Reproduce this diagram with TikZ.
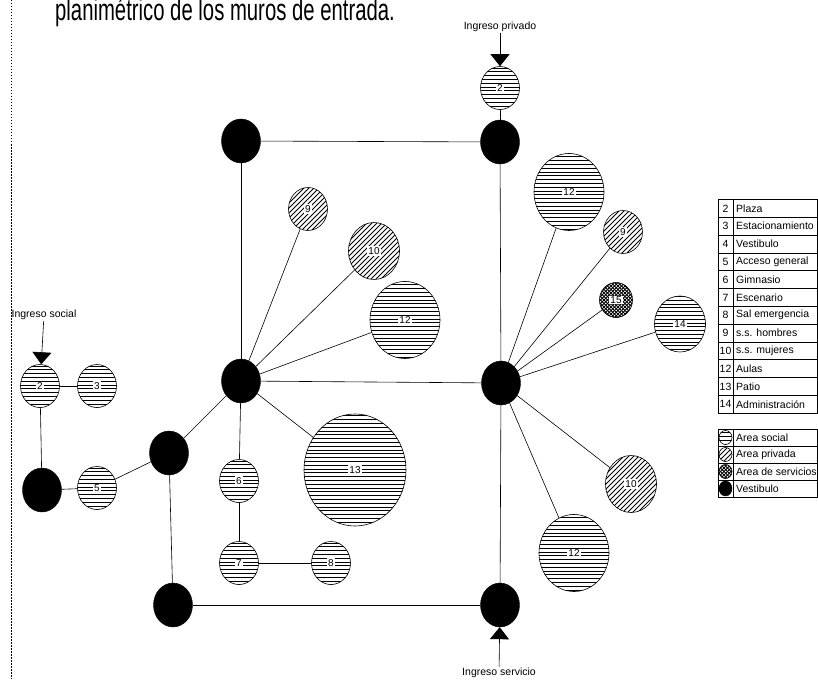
\documentclass[tikz,border=0pt]{standalone}
\usepackage{fontspec}
\setmainfont{Liberation Sans}
\usetikzlibrary{arrows.meta,positioning,shapes.geometric}

\begin{document}
\begin{tikzpicture}[
  x=1pt, y=-1pt,
  vest/.style={ellipse, draw, fill=black, minimum width=39pt, minimum height=44pt, inner sep=0pt},
  area/.style={ellipse, draw, line width=0.6pt, inner sep=0pt, label={[num]center:#1}},
  raya/.style={line width=0.75pt, shift={(path picture bounding box.center)}},
  rayado/.style={path picture={
    \foreach \k in {-58,-54.2,...,58} \draw[raya] (-60,\k) -- (60,\k);}},
  diagonal/.style={path picture={
    \foreach \k in {-90,-85,...,90} \draw[raya] (\k-40,40) -- (\k+40,-40);}},
  cuadros/.style={path picture={
    \foreach \k in {-40,-36.5,...,40} {\draw[raya, line width=1pt] (\k-20,20) -- (\k+20,-20);
      \draw[raya, line width=1pt] (\k-20,-20) -- (\k+20,20);}}},
  social/.style={area=#1, rayado},
  privada/.style={area=#1, diagonal},
  servicio/.style={area=#1, cuadros},
  chica/.style={minimum width=39pt, minimum height=43pt},
  media/.style={minimum width=51pt, minimum height=57pt},
  grande/.style={minimum width=70pt, minimum height=77pt},
  num/.style={fill=white, inner sep=1pt, font=\fontsize{10}{10}\selectfont},
  link/.style={line width=0.6pt},
  entrada/.style={line width=0.6pt, -{Triangle[width=19pt,length=12pt]}},
  rotulo/.style={font=\fontsize{10.5}{10.5}\selectfont, inner sep=1pt},
  celda/.style={font=\fontsize{10.5}{10.5}\selectfont, inner sep=0pt}
]
  \useasboundingbox (0,0) rectangle (818,679);

  \node[anchor=base west, inner sep=0pt, font=\fontsize{20.3}{20.3}\selectfont] (titulo) at (55,21)
    {\scalebox{1}[1.5]{planimétrico de los muros de entrada.}};
  \draw[line width=0.5pt, dash pattern=on 1.5pt off 1.5pt] (11,0) -- (11,679);

  % vestibulos
  \node[vest] (v1) at (241,141) {};
  \node[vest] (v2) at (500,142) {};
  \node[vest] (v3) at (241,381) {};
  \node[vest] (v4) at (501,383) {};
  \node[vest] (v5) at (169,453) {};
  \node[vest] (v6) at (173,605) {};
  \node[vest] (v7) at (500,605) {};
  \node[vest] (v8) at (42,490) {};

  % areas
  \node[social=2, chica] (a2p) at (500,88) {};
  \node[social=12, grande] (a12tr) at (569,192) {};
  \node[privada=9, chica] (a9r) at (623,232) {};
  \node[servicio=15, minimum width=33pt, minimum height=35pt] (a15) at (616,300) {};
  \node[social=14, minimum width=51pt, minimum height=56pt] (a14) at (680,324) {};
  \node[privada=10, media] (a10r) at (631,484) {};
  \node[social=12, grande] (a12br) at (574,553) {};
  \node[privada=9, chica] (a9l) at (308,209) {};
  \node[privada=10, media] (a10l) at (374,251) {};
  \node[social=12, grande] (a12l) at (405,320) {};
  \node[social=13, minimum width=102pt, minimum height=112pt] (a13) at (355,470) {};
  \node[social=6, chica] (a6) at (239,481) {};
  \node[social=7, chica] (a7) at (239,563) {};
  \node[social=8, chica] (a8) at (331,563) {};
  \node[social=2, chica] (a2s) at (40,386) {};
  \node[social=3, chica] (a3) at (97,386) {};
  \node[social=5, chica] (a5) at (97,488) {};

  % conexiones
  \draw[link] (v1) -- (v2);
  \draw[link] (v1) -- (v3);
  \draw[link] (v2) -- (a2p);
  \draw[link] (v2) -- (v4);
  \draw[link] (v3) -- (v4);
  \foreach \a in {a9l,a10l,a12l,a13,a6,v5}
    \draw[link] (v3) -- (\a);
  \draw[link] (a6) -- (a7);
  \draw[link] (a7) -- (a8);
  \draw[link] (v5) -- (a5);
  \draw[link] (v5) -- (v6);
  \draw[link] (v6) -- (v7);
  \draw[link] (v7) -- (v4);
  \foreach \a in {a12tr,a9r,a15,a14,a10r,a12br}
    \draw[link] (v4) -- (\a);
  \draw[link] (v8) -- (a2s);
  \draw[link] (v8) -- (a5);
  \draw[link] (a2s) -- (a3);

  % ingresos
  \node[rotulo] (isoc) at (44,315) {Ingreso social};
  \node[rotulo] (ipriv) at (500,27) {Ingreso privado};
  \node[rotulo] (iserv) at (499,673) {Ingreso servicio};
  \draw[entrada] (isoc) -- (a2s);
  \draw[entrada] (ipriv) -- (a2p);
  \draw[entrada] (iserv) -- (v7);

  % tabla de espacios
  \foreach \n/\t [count=\i] in {2/Plaza, 3/Estacionamiento, 4/Vestibulo, 5/Acceso general,
      6/Gimnasio, 7/Escenario, 8/Sal emergencia, 9/s.s. hombres, 10/s.s. mujeres,
      12/Aulas, 13/Patio, 14/Administración}
  {
    \draw[line width=0.6pt] (718,{199.5+(\i-1)*17.8}) rectangle (817.5,{199.5+\i*17.8});
    \draw[line width=0.6pt] (733,{199.5+(\i-1)*17.8}) -- (733,{199.5+\i*17.8});
    \node[celda] (tn\i) at (725.5,{199.5+(\i-0.5)*17.8}) {\n};
    \node[celda, anchor=west] (tt\i) at (736,{199.5+(\i-0.5)*17.8}) {\t};
  }

  % simbologia
  \foreach \p/\t [count=\i] in {rayado/Area social, diagonal/Area privada, cuadros/Area de servicios}
  {
    \draw[line width=0.6pt] (718,{429+(\i-1)*17}) rectangle (817.5,{429+\i*17});
    \draw[line width=0.6pt] (733,{429+(\i-1)*17}) -- (733,{429+\i*17});
    \node[ellipse, draw, line width=0.6pt, \p, minimum width=13pt, minimum height=14pt, inner sep=0pt] (ls\i) at (725.5,{429+(\i-0.5)*17}) {};
    \node[celda, anchor=west] (lt\i) at (736,{429+(\i-0.5)*17}) {\t};
  }
  \draw[line width=0.6pt] (718,480) rectangle (817.5,497);
  \draw[line width=0.6pt] (733,480) -- (733,497);
  \node[ellipse, draw, fill=black, minimum width=13pt, minimum height=15pt, inner sep=0pt] (ls4) at (725.5,488.5) {};
  \node[celda, anchor=west] (lt4) at (736,488.5) {Vestibulo};
\end{tikzpicture}
\end{document}
